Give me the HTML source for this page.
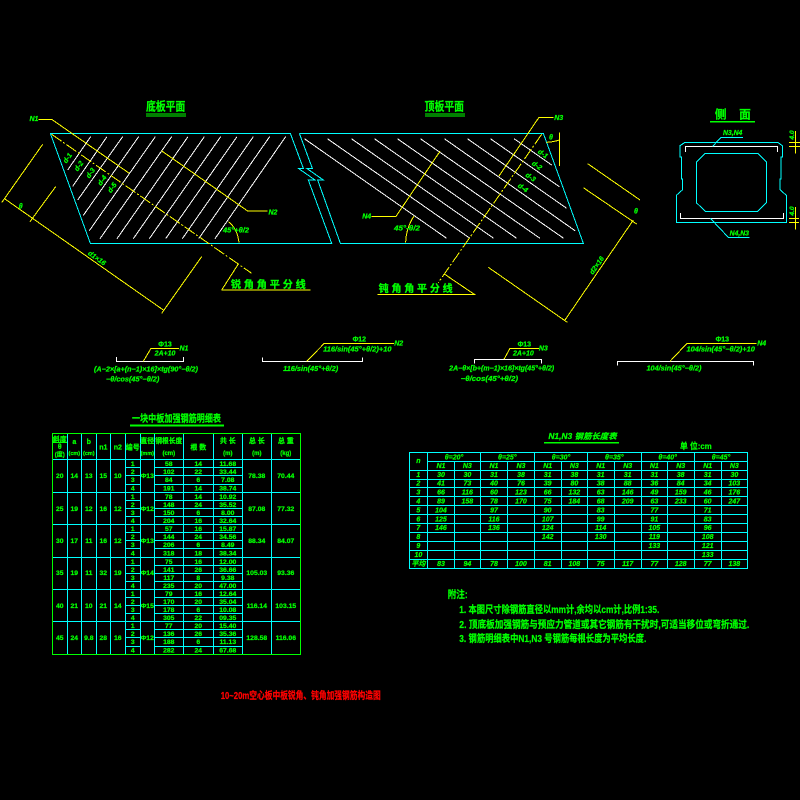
<!DOCTYPE html>
<html><head><meta charset="utf-8"><style>
html,body{margin:0;padding:0;background:#000;width:800px;height:800px;overflow:hidden}
svg{display:block}
path,rect{shape-rendering:crispEdges}
text{font-family:"Liberation Sans","Noto Sans CJK SC",sans-serif;fill:#0f0;stroke:#0f0;stroke-width:.25;font-weight:bold}
g[transform] text{stroke-width:.75}
.c{fill:none;stroke:#0ff}.y{fill:none;stroke:#ff0}.w{fill:none;stroke:#fff}.gl{fill:none;stroke:#0f0}
.m{text-anchor:middle}.i{font-style:italic}
</style></head><body>
<svg width="800" height="800" viewBox="0 0 800 800" xmlns="http://www.w3.org/2000/svg">
<rect width="800" height="800" fill="#000"/>

<!-- left plan, zoom coords -->
<g transform="translate(0,90) scale(.33333)" stroke-width="3">
<path class="c" d="M151 130H871L910 235H895L945 270H925L995 460H271Z"/>
<path class="c" d="M898 130L937 235H920L970 270H953L1021 460H1050"/>
<path class="c" d="M898 130H1630"/>
<path class="w" d="M272 140L203 240M321 140L218 289M368 140L233 330M416 140L250 376M466 140L268 422M515 140L300 446M564 140L351 446M613 140L400 446M662 140L448 446M711 140L497 446M760 140L547 446M809 140L596 446M857 140L645 446"/>
<path class="y" d="M115 88H155L388 250M484 182L743 363H802M5 338L128 163M90 395L167 290M485 670L605 500M15 327L490 660M685 395Q712 415 717 458M665 600H932M665 600L715 522"/>
<path class="y" d="M155 133L755 550" stroke-dasharray="36 6 6 6"/>
<g font-size="21">
<text class="m i" x="102" y="93">N1</text>
<text class="m i" x="819" y="373">N2</text>
<text class="m i" x="62" y="355">θ</text>
<text class="m i" x="708" y="427" textLength="78" lengthAdjust="spacingAndGlyphs">45°+θ/2</text>
<text class="m i" transform="translate(287,510) rotate(35)" textLength="60" lengthAdjust="spacingAndGlyphs">d1×16</text>
<text class="m i" transform="translate(208,208) rotate(-55)">d-1</text>
<text class="m i" transform="translate(242,232) rotate(-55)">d-2</text>
<text class="m i" transform="translate(277,253) rotate(-55)">d-3</text>
<text class="m i" transform="translate(312,275) rotate(-55)">d-4</text>
<text class="m i" transform="translate(342,297) rotate(-55)">d-5</text>
</g>
<text class="m" x="497" y="62" font-size="35" textLength="118" lengthAdjust="spacingAndGlyphs">底板平面</text>
<path class="gl" d="M438 72H558M438 78H558"/>
<text class="m" x="805" y="594" font-size="30" textLength="225" lengthAdjust="spacingAndGlyphs">锐 角 角 平 分 线</text>
</g>

<!-- right plan, zoom coords -->
<g transform="translate(290,90) scale(.33333)" stroke-width="3">
<path class="c" d="M760 130L880 460H152"/>
<path class="w" d="M43 146L470 445M112 146L540 445M184 146L611 445M253 146L680 445M322 146L750 445M391 146L821 445M463 146L855 422M532 146L830 355M601 146L808 290M672 146L785 225"/>
<path class="y" d="M790 82H747L627 258M245 379H318L450 184M262 613H553L463 552M808 127V228M770 157Q790 156 808 150M893 221L1050 330M880 293L1040 402M595 532L832 697M1030 390L825 690M372 378Q348 415 347 458"/>
<path class="y" d="M755 133L445 578" stroke-dasharray="36 6 6 6"/>
<g font-size="21">
<text class="m i" x="806" y="90">N3</text>
<text class="m i" x="230" y="385">N4</text>
<text class="m i" x="783" y="148">θ</text>
<text class="m i" x="1038" y="370">θ</text>
<text class="m i" x="351" y="422" textLength="78" lengthAdjust="spacingAndGlyphs">45°-θ/2</text>
<text class="m i" transform="translate(926,530) rotate(-55)" textLength="60" lengthAdjust="spacingAndGlyphs">d2×16</text>
<text class="m i" transform="translate(755,197) rotate(35)">d-1</text>
<text class="m i" transform="translate(737,232) rotate(35)">d-2</text>
<text class="m i" transform="translate(718,267) rotate(35)">d-3</text>
<text class="m i" transform="translate(695,299) rotate(35)">d-4</text>
</g>
<text class="m" x="463" y="62" font-size="35" textLength="118" lengthAdjust="spacingAndGlyphs">顶板平面</text>
<path class="gl" d="M405 72H525M405 78H525"/>
<text class="m" x="377" y="606" font-size="30" textLength="222" lengthAdjust="spacingAndGlyphs">钝 角 角 平 分 线</text>
</g>

<!-- cross section -->
<g transform="translate(650,100) scale(.33333)" stroke-width="3">
<path class="c" d="M105 127H383L397 137V171H393V237H390V269L409 286V367H79V286L98 269V237H94V171H90V137Z"/>
<path class="c" d="M166 160H323L349 186V308L323 334H166L139 308V186Z"/>
<path class="w" d="M106 156V139H383V156M91 339V355H401V339"/>
<path class="c" d="M188 139L213 112H279M181 355L235 412H299"/>
<path class="y" d="M436 93V161M417 127H450M417 139H450M436 321V389M417 355H447M417 367H447"/>
<text class="m" x="212" y="55" font-size="35">侧</text>
<text class="m" x="285" y="55" font-size="35">面</text>
<path d="M180 65H315" stroke="#0f0" stroke-width="5"/>
<text class="m i" x="248" y="105" font-size="21" textLength="58" lengthAdjust="spacingAndGlyphs">N3,N4</text>
<text class="m i" x="268" y="407" font-size="21" textLength="58" lengthAdjust="spacingAndGlyphs">N4,N3</text>
<text class="m i" transform="translate(432,105) rotate(-90)" font-size="20">4.0</text>
<text class="m i" transform="translate(432,333) rotate(-90)" font-size="20">4.0</text>
</g>

<!-- formulas left -->
<g transform="translate(80,330) scale(.33333)" stroke-width="3" font-size="21">
<path class="w" d="M109 81V94H311V81M547 82V94H848V82"/>
<path class="y" d="M190 94L213 55H297M680 94L733 40H942"/>
<text class="m" x="255" y="50">Φ13</text>
<text class="m i" x="255" y="77">2A+10</text>
<text class="m i" x="312" y="62">N1</text>
<text class="m i" x="198" y="124" textLength="312" lengthAdjust="spacingAndGlyphs">(A−2×[a+(n−1)×16]×tg(90°−θ/2)</text>
<text class="m i" x="158" y="154" textLength="160" lengthAdjust="spacingAndGlyphs">−θ/cos(45°−θ/2)</text>
<text class="m" x="838" y="35">Φ12</text>
<text class="m i" x="832" y="64" textLength="205" lengthAdjust="spacingAndGlyphs">116/sin(45°+θ/2)+10</text>
<text class="m i" x="956" y="47">N2</text>
<text class="m i" x="692" y="123" textLength="165" lengthAdjust="spacingAndGlyphs">116/sin(45°+θ/2)</text>
</g>

<!-- formulas right -->
<g transform="translate(440,330) scale(.33333)" stroke-width="3" font-size="21">
<path class="w" d="M103 100V88H304V100M532 107V94H941V107"/>
<path class="y" d="M192 88L210 55H297M690 94L741 40H950"/>
<text class="m" x="253" y="50">Φ13</text>
<text class="m i" x="250" y="77">2A+10</text>
<text class="m i" x="310" y="62">N3</text>
<text class="m i" x="185" y="122" textLength="315" lengthAdjust="spacingAndGlyphs">2A−θ×[b+(m−1)×16]×tg(45°+θ/2)</text>
<text class="m i" x="148" y="153" textLength="172" lengthAdjust="spacingAndGlyphs">−θ/cos(45°+θ/2)</text>
<text class="m" x="847" y="35">Φ13</text>
<text class="m i" x="842" y="64" textLength="205" lengthAdjust="spacingAndGlyphs">104/sin(45°−θ/2)+10</text>
<text class="m i" x="965" y="47">N4</text>
<text class="m i" x="702" y="122" textLength="165" lengthAdjust="spacingAndGlyphs">104/sin(45°−θ/2)</text>
</g>

<!-- table 1 -->
<g>
<text class="m" x="176.5" y="422" font-size="10" textLength="89" lengthAdjust="spacingAndGlyphs">一块中板加强钢筋明细表</text>
<path d="M130 425.5H224" stroke="#0f0" stroke-width="2"/>
<path class="c" d="M67.5 433.5V654.5M81.5 433.5V654.5M96.5 433.5V654.5M110.5 433.5V654.5M125.5 433.5V654.5M140.5 433.5V654.5M154.5 433.5V654.5M183.5 433.5V654.5M213.5 433.5V654.5M242.5 433.5V654.5M271.5 433.5V654.5"/>
<path class="c" d="M52 459.5H300M52 492.5H300M52 524.5H300M52 557.5H300M52 589.5H300M52 621.5H300"/>
<path class="c" d="M125 467.5H140M154 467.5H243M125 475.5H140M154 475.5H243M125 484.5H140M154 484.5H243M125 500.5H140M154 500.5H243M125 508.5H140M154 508.5H243M125 516.5H140M154 516.5H243M125 532.5H140M154 532.5H243M125 540.5H140M154 540.5H243M125 548.5H140M154 548.5H243M125 565.5H140M154 565.5H243M125 573.5H140M154 573.5H243M125 581.5H140M154 581.5H243M125 597.5H140M154 597.5H243M125 605.5H140M154 605.5H243M125 613.5H140M154 613.5H243M125 629.5H140M154 629.5H243M125 637.5H140M154 637.5H243M125 646.5H140M154 646.5H243"/>
<rect class="gl" x="52.5" y="433.5" width="248" height="221"/>
<path class="gl" d="M52 442.5H67"/>
<g font-size="7" text-anchor="middle">
<text x="59.8" y="441.5">斜度</text><text x="59.8" y="449">θ</text><text x="59.8" y="456.5" font-size="6">(度)</text>
<text x="74.3" y="444">a</text><text x="74.3" y="454.8" font-size="5.5">(cm)</text>
<text x="88.8" y="444">b</text><text x="88.8" y="454.8" font-size="5.5">(cm)</text>
<text x="103.3" y="449.5">n1</text><text x="117.8" y="449.5">n2</text>
<text x="132.8" y="449.5">编号</text>
<text x="147.3" y="443">直径</text><text x="147.3" y="454.8" font-size="5.5">(mm)</text>
<text x="168.8" y="443" textLength="27" lengthAdjust="spacingAndGlyphs">钢根长度</text><text x="168.8" y="454.8" font-size="6">(cm)</text>
<text x="198.3" y="449.5">根 数</text>
<text x="227.8" y="443">共 长</text><text x="227.8" y="454.8" font-size="6">(m)</text>
<text x="256.8" y="443">总 长</text><text x="256.8" y="454.8" font-size="6">(m)</text>
<text x="285.8" y="443">总 重</text><text x="285.8" y="454.8" font-size="6">(kg)</text>
</g>
<g font-size="6.8" text-anchor="middle">
<text x="59.8" y="478">20</text><text x="74.3" y="478">14</text><text x="88.8" y="478">13</text><text x="103.3" y="478">15</text><text x="117.8" y="478">10</text><text x="147.3" y="478">Φ13</text><text x="256.8" y="478">78.38</text><text x="285.8" y="478">70.44</text>
<text x="132.8" y="465.8">1</text><text x="168.8" y="465.8">58</text><text x="198.3" y="465.8">14</text><text x="227.8" y="465.8">11.68</text>
<text x="132.8" y="473.8">2</text><text x="168.8" y="473.8">102</text><text x="198.3" y="473.8">22</text><text x="227.8" y="473.8">33.44</text>
<text x="132.8" y="482.1">3</text><text x="168.8" y="482.1">84</text><text x="198.3" y="482.1">6</text><text x="227.8" y="482.1">7.08</text>
<text x="132.8" y="490.6">4</text><text x="168.8" y="490.6">191</text><text x="198.3" y="490.6">14</text><text x="227.8" y="490.6">38.74</text>

<text x="59.8" y="510.8">25</text><text x="74.3" y="510.8">19</text><text x="88.8" y="510.8">12</text><text x="103.3" y="510.8">16</text><text x="117.8" y="510.8">12</text><text x="147.3" y="510.8">Φ12</text><text x="256.8" y="510.8">87.08</text><text x="285.8" y="510.8">77.32</text>
<text x="132.8" y="498.8">1</text><text x="168.8" y="498.8">78</text><text x="198.3" y="498.8">14</text><text x="227.8" y="498.8">10.92</text>
<text x="132.8" y="506.8">2</text><text x="168.8" y="506.8">148</text><text x="198.3" y="506.8">24</text><text x="227.8" y="506.8">35.52</text>
<text x="132.8" y="514.8">3</text><text x="168.8" y="514.8">150</text><text x="198.3" y="514.8">6</text><text x="227.8" y="514.8">8.00</text>
<text x="132.8" y="522.8">4</text><text x="168.8" y="522.8">204</text><text x="198.3" y="522.8">16</text><text x="227.8" y="522.8">32.64</text>

<text x="59.8" y="542.8">30</text><text x="74.3" y="542.8">17</text><text x="88.8" y="542.8">11</text><text x="103.3" y="542.8">16</text><text x="117.8" y="542.8">12</text><text x="147.3" y="542.8">Φ13</text><text x="256.8" y="542.8">88.34</text><text x="285.8" y="542.8">84.07</text>
<text x="132.8" y="530.8">1</text><text x="168.8" y="530.8">57</text><text x="198.3" y="530.8">16</text><text x="227.8" y="530.8">15.87</text>
<text x="132.8" y="538.8">2</text><text x="168.8" y="538.8">144</text><text x="198.3" y="538.8">24</text><text x="227.8" y="538.8">34.56</text>
<text x="132.8" y="546.8">3</text><text x="168.8" y="546.8">206</text><text x="198.3" y="546.8">6</text><text x="227.8" y="546.8">8.49</text>
<text x="132.8" y="555.3">4</text><text x="168.8" y="555.3">318</text><text x="198.3" y="555.3">18</text><text x="227.8" y="555.3">38.34</text>

<text x="59.8" y="575.2">35</text><text x="74.3" y="575.2">19</text><text x="88.8" y="575.2">11</text><text x="103.3" y="575.2">32</text><text x="117.8" y="575.2">19</text><text x="147.3" y="575.2">Φ14</text><text x="256.8" y="575.2">105.03</text><text x="285.8" y="575.2">93.36</text>
<text x="132.8" y="563.8">1</text><text x="168.8" y="563.8">75</text><text x="198.3" y="563.8">16</text><text x="227.8" y="563.8">12.00</text>
<text x="132.8" y="571.8">2</text><text x="168.8" y="571.8">141</text><text x="198.3" y="571.8">26</text><text x="227.8" y="571.8">36.66</text>
<text x="132.8" y="579.8">3</text><text x="168.8" y="579.8">117</text><text x="198.3" y="579.8">8</text><text x="227.8" y="579.8">9.38</text>
<text x="132.8" y="587.8">4</text><text x="168.8" y="587.8">235</text><text x="198.3" y="587.8">20</text><text x="227.8" y="587.8">47.00</text>

<text x="59.8" y="607.8">40</text><text x="74.3" y="607.8">21</text><text x="88.8" y="607.8">10</text><text x="103.3" y="607.8">21</text><text x="117.8" y="607.8">14</text><text x="147.3" y="607.8">Φ15</text><text x="256.8" y="607.8">116.14</text><text x="285.8" y="607.8">103.15</text>
<text x="132.8" y="595.8">1</text><text x="168.8" y="595.8">79</text><text x="198.3" y="595.8">16</text><text x="227.8" y="595.8">12.64</text>
<text x="132.8" y="603.8">2</text><text x="168.8" y="603.8">170</text><text x="198.3" y="603.8">20</text><text x="227.8" y="603.8">35.04</text>
<text x="132.8" y="611.8">3</text><text x="168.8" y="611.8">178</text><text x="198.3" y="611.8">6</text><text x="227.8" y="611.8">10.08</text>
<text x="132.8" y="619.8">4</text><text x="168.8" y="619.8">305</text><text x="198.3" y="619.8">22</text><text x="227.8" y="619.8">09.35</text>

<text x="59.8" y="640.2">45</text><text x="74.3" y="640.2">24</text><text x="88.8" y="640.2">9.8</text><text x="103.3" y="640.2">28</text><text x="117.8" y="640.2">16</text><text x="147.3" y="640.2">Φ12</text><text x="256.8" y="640.2">128.58</text><text x="285.8" y="640.2">116.06</text>
<text x="132.8" y="627.8">1</text><text x="168.8" y="627.8">77</text><text x="198.3" y="627.8">20</text><text x="227.8" y="627.8">15.40</text>
<text x="132.8" y="635.8">2</text><text x="168.8" y="635.8">136</text><text x="198.3" y="635.8">26</text><text x="227.8" y="635.8">35.36</text>
<text x="132.8" y="644.1">3</text><text x="168.8" y="644.1">188</text><text x="198.3" y="644.1">6</text><text x="227.8" y="644.1">11.13</text>
<text x="132.8" y="652.5">4</text><text x="168.8" y="652.5">282</text><text x="198.3" y="652.5">24</text><text x="227.8" y="652.5">67.68</text>
</g>
</g>

<!-- table 2 -->
<g transform="translate(400,425) scale(.33333)" stroke-width="3">
<text x="445" y="42" font-size="24" class="i" textLength="205" lengthAdjust="spacingAndGlyphs">N1,N3 钢筋长度表</text>
<path d="M432 53H657" stroke="#0f0" stroke-width="5"/>
<text x="840" y="72" font-size="26" textLength="95" lengthAdjust="spacingAndGlyphs">单 位:cm</text>
<rect class="c" x="28" y="82" width="1015" height="349"/>
<path class="c" d="M83 82V431M241 82V431M403 82V431M562 82V431M724 82V431M883 82V431M163 109V431M323 109V431M484 109V431M643 109V431M802 109V431M964 109V431"/>
<path class="c" d="M83 109H1043M28 136H1043M28 163H1043M28 188H1043M28 215H1043M28 242H1043M28 269H1043M28 295H1043M28 322H1043M28 349H1043M28 376H1043M28 403H1043"/>
<g font-size="21" class="i" text-anchor="middle">
<text x="55" y="114">n</text>
<text x="162" y="103">θ=20°</text><text x="322" y="103">θ=25°</text><text x="483" y="103">θ=30°</text><text x="643" y="103">θ=35°</text><text x="803" y="103">θ=40°</text><text x="963" y="103">θ=45°</text>
<text x="123" y="129">N1</text><text x="202" y="129">N3</text><text x="282" y="129">N1</text><text x="363" y="129">N3</text><text x="443" y="129">N1</text><text x="523" y="129">N3</text><text x="602" y="129">N1</text><text x="683" y="129">N3</text><text x="763" y="129">N1</text><text x="842" y="129">N3</text><text x="923" y="129">N1</text><text x="1003" y="129">N3</text>
<text x="55" y="156">1</text><text x="123" y="156">30</text><text x="202" y="156">30</text><text x="282" y="156">31</text><text x="363" y="156">38</text><text x="443" y="156">31</text><text x="523" y="156">38</text><text x="602" y="156">31</text><text x="683" y="156">31</text><text x="763" y="156">31</text><text x="842" y="156">38</text><text x="923" y="156">31</text><text x="1003" y="156">30</text>
<text x="55" y="182">2</text><text x="123" y="182">41</text><text x="202" y="182">73</text><text x="282" y="182">40</text><text x="363" y="182">76</text><text x="443" y="182">39</text><text x="523" y="182">80</text><text x="602" y="182">38</text><text x="683" y="182">88</text><text x="763" y="182">36</text><text x="842" y="182">84</text><text x="923" y="182">34</text><text x="1003" y="182">103</text>
<text x="55" y="208">3</text><text x="123" y="208">66</text><text x="202" y="208">116</text><text x="282" y="208">60</text><text x="363" y="208">123</text><text x="443" y="208">66</text><text x="523" y="208">132</text><text x="602" y="208">63</text><text x="683" y="208">146</text><text x="763" y="208">49</text><text x="842" y="208">159</text><text x="923" y="208">46</text><text x="1003" y="208">176</text>
<text x="55" y="235">4</text><text x="123" y="235">89</text><text x="202" y="235">158</text><text x="282" y="235">78</text><text x="363" y="235">170</text><text x="443" y="235">75</text><text x="523" y="235">184</text><text x="602" y="235">68</text><text x="683" y="235">209</text><text x="763" y="235">63</text><text x="842" y="235">233</text><text x="923" y="235">60</text><text x="1003" y="235">247</text>
<text x="55" y="262">5</text><text x="123" y="262">104</text><text x="282" y="262">97</text><text x="443" y="262">90</text><text x="602" y="262">83</text><text x="763" y="262">77</text><text x="923" y="262">71</text>
<text x="55" y="289">6</text><text x="123" y="289">125</text><text x="282" y="289">116</text><text x="443" y="289">107</text><text x="602" y="289">99</text><text x="763" y="289">91</text><text x="923" y="289">83</text>
<text x="55" y="315">7</text><text x="123" y="315">146</text><text x="282" y="315">136</text><text x="443" y="315">124</text><text x="602" y="315">114</text><text x="763" y="315">105</text><text x="923" y="315">96</text>
<text x="55" y="342">8</text><text x="443" y="342">142</text><text x="602" y="342">130</text><text x="763" y="342">119</text><text x="923" y="342">108</text>
<text x="55" y="369">9</text><text x="763" y="369">133</text><text x="923" y="369">121</text>
<text x="55" y="396">10</text><text x="923" y="396">133</text>
<text x="55" y="423">平均</text><text x="123" y="423">83</text><text x="202" y="423">94</text><text x="282" y="423">78</text><text x="363" y="423">100</text><text x="443" y="423">81</text><text x="523" y="423">108</text><text x="602" y="423">75</text><text x="683" y="423">117</text><text x="763" y="423">77</text><text x="842" y="423">128</text><text x="923" y="423">77</text><text x="1003" y="423">138</text>
</g>
</g>

<!-- notes -->
<g font-size="10">
<text x="447.7" y="598" textLength="20" lengthAdjust="spacingAndGlyphs">附注:</text>
<text x="459.3" y="613" textLength="200" lengthAdjust="spacingAndGlyphs">1. 本图尺寸除钢筋直径以mm计,余均以cm计,比例1:35.</text>
<text x="459.3" y="628" textLength="290" lengthAdjust="spacingAndGlyphs">2. 顶底板加强钢筋与预应力管道或其它钢筋有干扰时,可适当移位或弯折通过.</text>
<text x="459.3" y="642" textLength="187" lengthAdjust="spacingAndGlyphs">3. 钢筋明细表中N1,N3 号钢筋每根长度为平均长度.</text>
</g>
<text x="220.7" y="699" font-size="10" style="fill:#f00;stroke:#f00" textLength="160" lengthAdjust="spacingAndGlyphs">10~20m空心板中板锐角、钝角加强钢筋构造图</text>
</svg>
</body></html>
